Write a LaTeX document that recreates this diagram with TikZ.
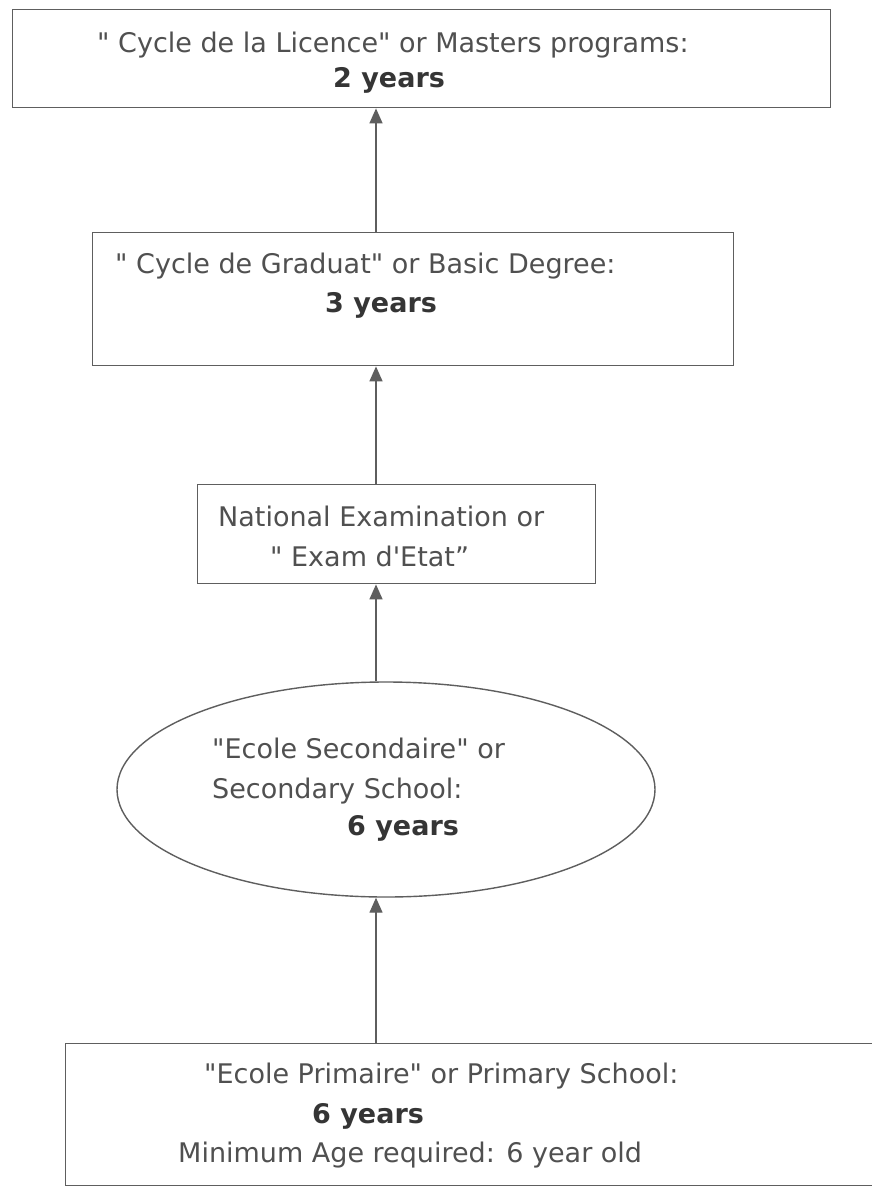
\documentclass[tikz,border=0pt]{standalone}
\usepackage{fontspec}
\setmainfont{DejaVu Sans}[Ligatures=TeXOff]
\usetikzlibrary{arrows.meta,shapes.geometric}
\definecolor{ink}{HTML}{505050}
\definecolor{darkink}{HTML}{353535}
\definecolor{edge}{HTML}{5E5E5E}
\tikzset{
  stagebox/.style={draw=edge, line width=1.4pt, rectangle, inner sep=0pt, anchor=north west},
  stageoval/.style={draw=edge, line width=1.4pt, ellipse, inner sep=0pt},
  label/.style={text=ink, font=\fontsize{27}{32}\selectfont, inner sep=0pt, anchor=base west},
  years/.style={text=darkink, font=\fontsize{27}{32}\selectfont\bfseries, inner sep=0pt, anchor=base west},
  arr/.style={draw=edge, line width=1.4pt, -{Triangle[length=15pt,width=13pt]}}
}
\begin{document}
\begin{tikzpicture}[x=1pt,y=-1pt]
\useasboundingbox (0,0) rectangle (872,1186);
\fill[white] (0,0) rectangle (872,1186);

% shared column for the connectors
\coordinate (col) at (376,0);

% stage boxes
\node[stagebox, minimum width=818pt, minimum height=98pt] (licence) at (12,9) {};
\node[stagebox, minimum width=641pt, minimum height=133pt] (graduat) at (92,232) {};
\node[stagebox, minimum width=398pt, minimum height=99pt] (exam) at (197,484) {};
\node[stageoval, minimum width=538pt, minimum height=215pt] (secondaire) at (386,789.5) {};
\node[stagebox, minimum width=830pt, minimum height=142pt] (primaire) at (65,1043) {};

% texts (placed by left end of their baseline)
\node[label] (t1a) at (97,52) {" Cycle de la Licence" or Masters programs:};
\node[years] (t1b) at (333,87) {2 years};
\node[label] (t2a) at (115,273) {" Cycle de Graduat" or Basic Degree:};
\node[years] (t2b) at (325,312) {3 years};
\node[label] (t3a) at (218,526) {National Examination or};
\node[label] (t3b) at (270,566) {" Exam d'Etat”};
\node[label] (t4a) at (212,758) {"Ecole Secondaire" or};
\node[label] (t4b) at (212,798) {Secondary School:};
\node[years] (t4c) at (347,835) {6 years};
\node[label] (t5a) at (204,1083) {"Ecole Primaire" or Primary School:};
\node[years] (t5b) at (312,1123) {6 years};
\node[label] (t5c) at (178,1162) {Minimum Age required: 6 year old};

% connectors
\draw[arr] (col |- graduat.north) -- (col |- licence.south);
\draw[arr] (col |- exam.north) -- (col |- graduat.south);
\draw[arr] (col |- secondaire.north) -- (col |- exam.south);
\draw[arr] (col |- primaire.north) -- (col |- secondaire.south);
\end{tikzpicture}
\end{document}
